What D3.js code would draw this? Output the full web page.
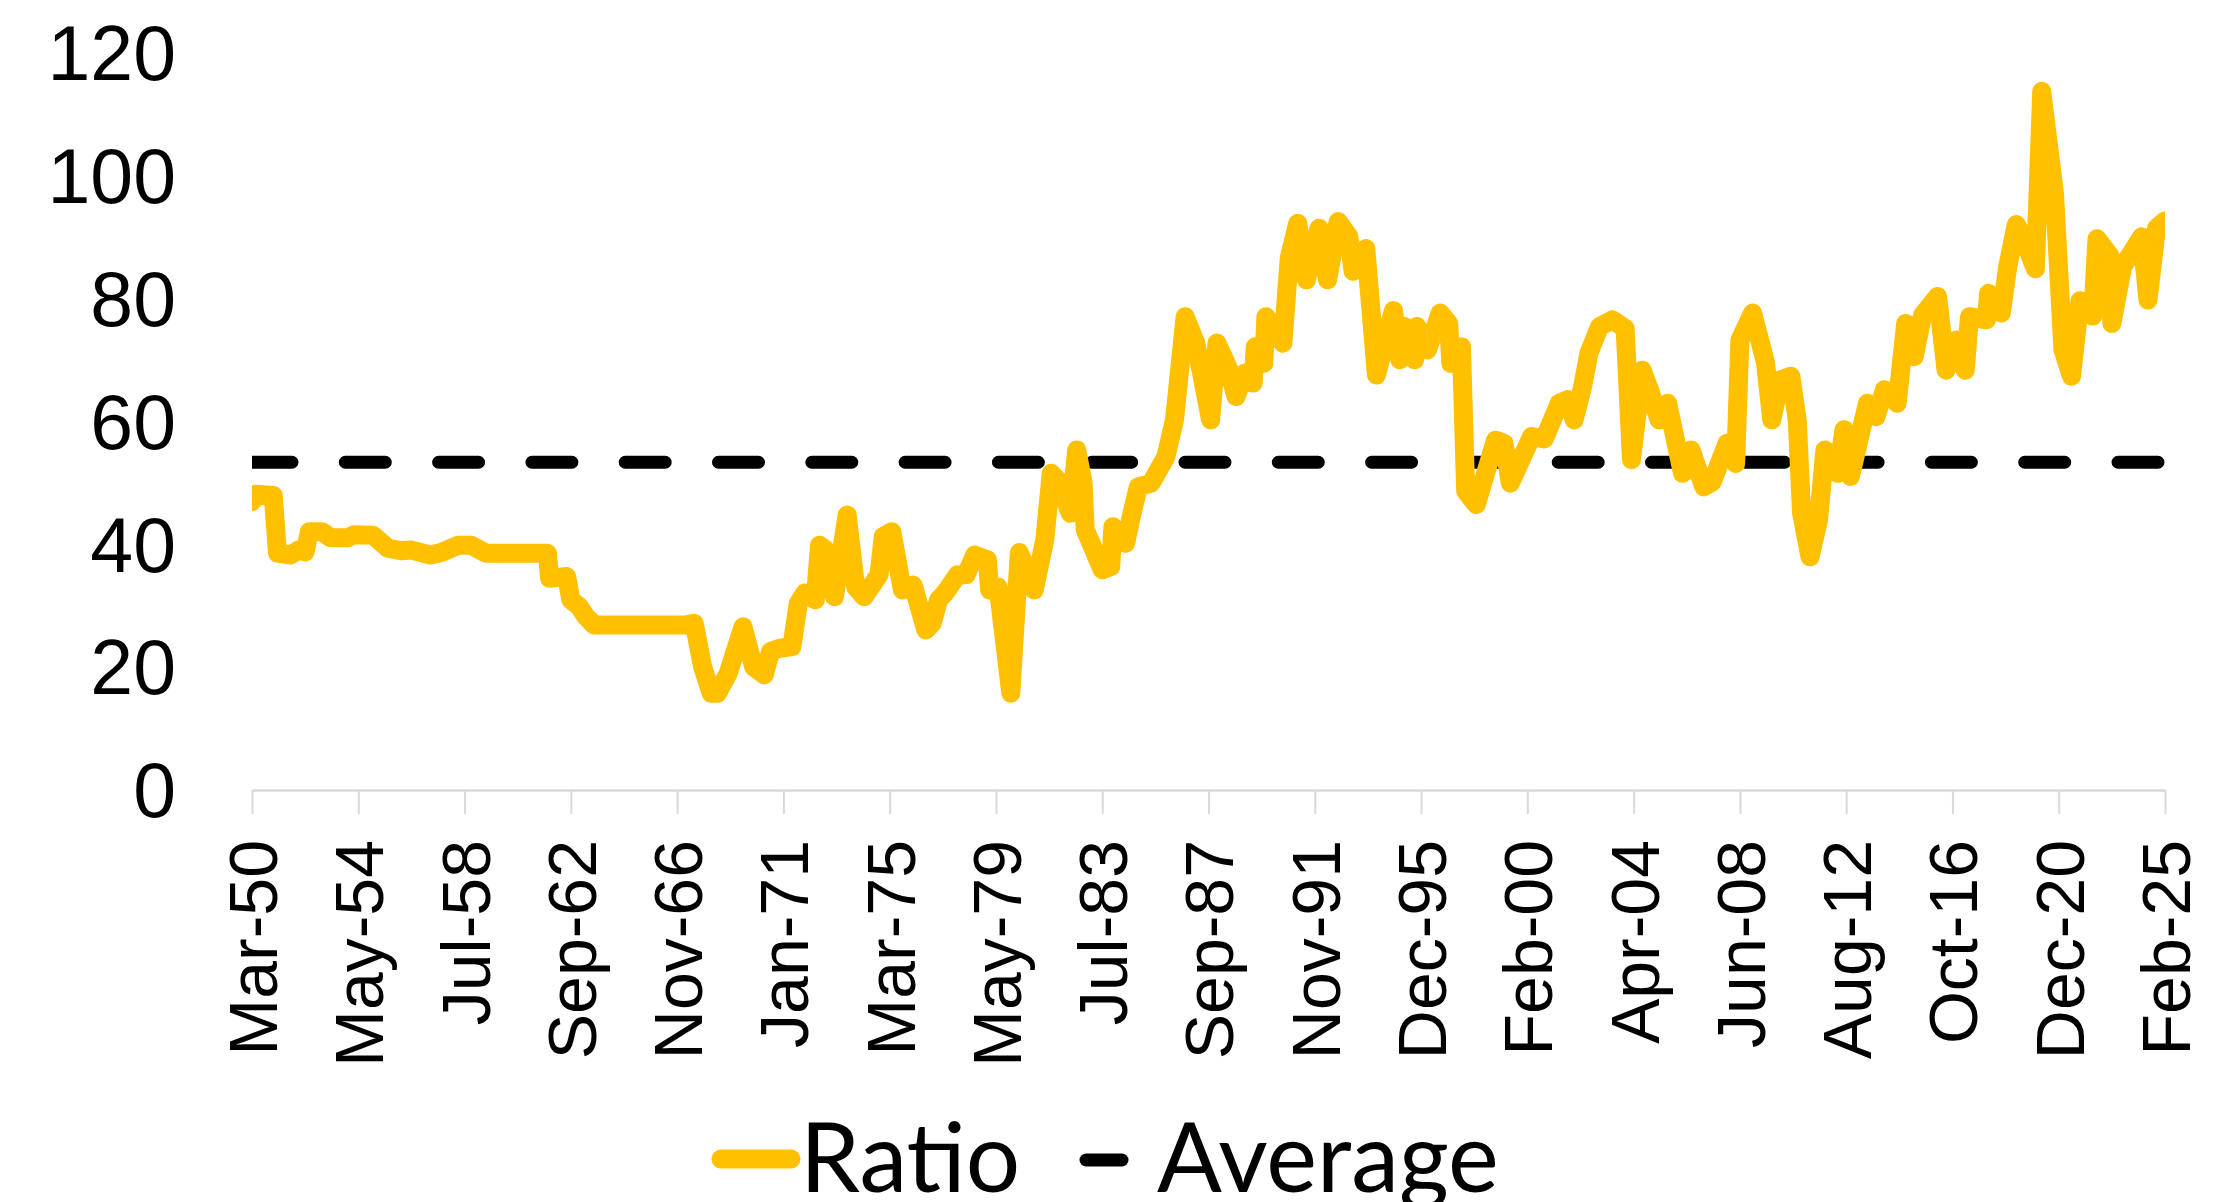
<!DOCTYPE html>
<html>
<head>
<meta charset="utf-8">
<script src="https://cdn.jsdelivr.net/npm/d3@7"></script>
<style>
  body { margin: 0; background: #fff; }
  svg { display: block; font-family: Lato, "Open Sans", sans-serif; }
</style>
</head>
<body>
<div id="chart"></div>
<script>
const width = 2220;
const height = 1202;

// month index counted from Mar-50, one label every 50 categories
const tickLabels = ["Mar-50", "May-54", "Jul-58", "Sep-62", "Nov-66", "Jan-71", "Mar-75", "May-79",
  "Jul-83", "Sep-87", "Nov-91", "Dec-95", "Feb-00", "Apr-04", "Jun-08", "Aug-12", "Oct-16", "Dec-20", "Feb-25"];
const yTicks = [0, 20, 40, 60, 80, 100, 120];

const ratioIdx = [0, 2, 10, 12, 18, 22, 25, 27, 33, 37, 45, 48, 57, 64, 70, 75, 84, 89, 97, 103, 110,
  139, 140, 148, 150, 154, 157, 161, 204, 208, 212, 216, 219, 224, 231, 236, 241,
  244, 248, 254, 257, 260, 265, 267, 270, 274, 280, 284, 288, 295, 297, 301, 306, 311, 317, 320, 323,
  326, 332, 336, 340, 346, 347, 351, 357, 361,
  368, 373, 376, 379, 385, 388, 391, 392, 400, 404, 405, 411, 414, 417, 423, 430, 434, 439, 444, 451,
  454, 459, 463, 467, 471, 472, 476, 477, 485, 488, 492, 496, 502, 506, 511, 516, 518, 524, 529,
  537, 540, 542, 547, 548, 553, 559, 563, 564, 569, 571, 576, 585, 589, 592, 602, 608,
  615, 619, 622, 626, 629, 634, 640, 646, 649, 654, 658, 662, 666, 673, 677, 683, 687, 694, 698,
  700, 706, 712, 715, 719, 724, 727, 729, 733, 737, 740, 746, 749, 752, 760, 764, 768, 774, 778,
  782, 786, 793, 797, 802, 806, 808, 816, 817, 823, 826, 830, 833, 839, 842, 848, 852, 856, 860,
  866, 868, 874, 875, 880, 889, 892, 896, 900];
const ratioVal = [46.8, 48.0, 47.8, 38.4, 38.1, 38.9, 38.6, 41.9, 41.9, 40.9, 40.9, 41.4, 41.3, 39.2, 38.8, 38.9, 38.1, 38.5, 39.7, 39.7, 38.4,
  38.4, 34.3, 34.6, 30.8, 29.7, 28.1, 26.7, 26.7, 27.0, 19.9, 15.6, 15.6, 18.8, 26.4, 19.9, 18.6,
  22.4, 22.9, 23.2, 30.2, 31.9, 30.8, 39.7, 38.9, 31.3, 44.6, 32.9, 31.3, 34.9, 41.1, 41.9, 32.4, 33.2, 25.9, 27.0, 30.8,
  31.9, 34.9, 34.9, 38.1, 37.3, 32.4, 32.9, 15.6, 38.5,
  32.4, 40.6, 51.4, 50.3, 44.9, 55.2, 49.8, 42.2, 35.7, 36.2, 42.7, 40.0, 44.9, 49.2, 49.8, 54.1, 60.1, 76.9, 72.6, 60.1,
  72.6, 68.8, 63.9, 67.7, 66.1, 72.0, 69.3, 76.9, 72.6, 86.5, 92.1, 82.9, 91.3, 82.9, 92.4, 90.0, 84.3, 88.0, 67.4,
  77.9, 69.9, 75.3, 69.9, 75.3, 71.5, 77.5, 75.8, 69.3, 72.0, 48.5, 46.3, 56.8, 56.3, 49.8, 57.4, 57.0,
  62.8, 63.4, 60.1, 65.5, 71.0, 75.3, 76.4, 75.0, 53.6, 68.2, 64.5, 60.1, 62.8, 51.4, 55.2, 49.2, 50.0, 56.3, 53.0,
  73.1, 77.5, 69.5, 60.1, 66.6, 67.2, 60.0, 45.0, 37.8, 43.8, 55.2, 51.4, 58.5, 50.9, 62.8, 60.6, 65.0, 62.8, 75.8,
  70.4, 77.2, 80.2, 68.2, 73.1, 68.2, 76.9, 76.4, 80.7, 77.5, 85.0, 91.9, 90.0, 84.7, 113.6, 97.0, 71.5, 67.2, 79.5,
  77.0, 89.6, 86.9, 75.8, 85.0, 89.9, 79.6, 91.3, 92.5];
const averageVal = 53.2;

const ratio = ratioIdx.map((m, i) => ({ m, v: ratioVal[i] }));

const svg = d3.select("#chart").append("svg")
  .attr("width", width)
  .attr("height", height);

const x = d3.scaleLinear().domain([0, 900]).range([252, 2165]);
const y = d3.scaleLinear().domain([0, 120]).range([789, 52]);

svg.append("clipPath").attr("id", "plot-clip")
  .append("rect")
  .attr("x", x(0)).attr("y", 0)
  .attr("width", x(900) - x(0)).attr("height", height);

// x axis
const xAxis = svg.append("g")
  .attr("transform", `translate(0,${y(0) + 1})`)
  .call(d3.axisBottom(x)
    .tickValues(d3.range(0, 901, 50))
    .tickFormat((d, i) => tickLabels[i])
    .tickSize(24)
    .tickSizeOuter(0));
xAxis.select(".domain").attr("stroke", "#d9d9d9").attr("stroke-width", 2.5);
xAxis.selectAll(".tick line").attr("stroke", "#d9d9d9").attr("stroke-width", 2);
xAxis.selectAll(".tick text")
  .attr("fill", "#000")
  .style("font-size", "68px")
  .attr("text-anchor", "end")
  .attr("y", 0)
  .attr("x", 0)
  .attr("dy", "0.36em")
  .attr("transform", "translate(0,50) rotate(-90)");

// y axis (labels only)
const yAxis = svg.append("g")
  .attr("transform", `translate(${x(0)},0)`)
  .call(d3.axisLeft(y).tickValues(yTicks).tickSize(0).tickPadding(76));
yAxis.select(".domain").remove();
yAxis.selectAll(".tick text")
  .attr("fill", "#000")
  .attr("dy", "0.36em")
  .style("font-size", "77px");

const plot = svg.append("g").attr("clip-path", "url(#plot-clip)");

plot.append("line")
  .attr("x1", x(0)).attr("x2", x(900))
  .attr("y1", y(averageVal)).attr("y2", y(averageVal))
  .attr("stroke", "#000")
  .attr("stroke-width", 13)
  .attr("stroke-linecap", "round")
  .attr("stroke-dasharray", "40,53.3");

const line = d3.line().x(d => x(d.m)).y(d => y(d.v));

plot.append("path")
  .datum(ratio)
  .attr("d", line)
  .attr("fill", "none")
  .attr("stroke", "#ffc000")
  .attr("stroke-width", 19)
  .attr("stroke-linejoin", "round")
  .attr("stroke-linecap", "round");

// legend (sits at the bottom edge, as in the source image)
const legend = svg.append("g");
legend.append("line")
  .attr("x1", 721).attr("x2", 791).attr("y1", 1159).attr("y2", 1159)
  .attr("stroke", "#ffc000").attr("stroke-width", 19).attr("stroke-linecap", "round");
legend.append("text")
  .attr("x", 800).attr("y", 1192)
  .style("font-size", "96px")
  .text("Ratio");
legend.append("line")
  .attr("x1", 1086).attr("x2", 1122).attr("y1", 1160).attr("y2", 1160)
  .attr("stroke", "#000").attr("stroke-width", 13).attr("stroke-linecap", "round");
legend.append("text")
  .attr("x", 1157).attr("y", 1192)
  .style("font-size", "96px")
  .text("Average");
</script>
</body>
</html>
